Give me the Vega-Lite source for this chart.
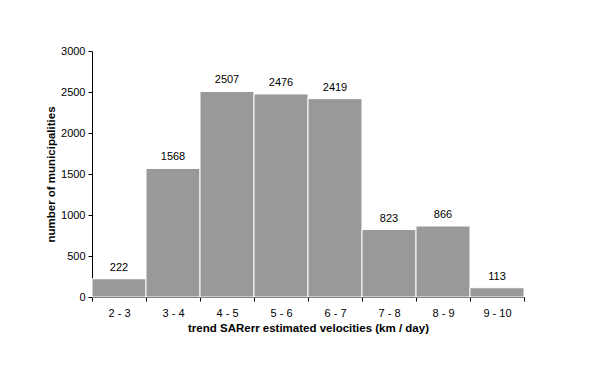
{
  "$schema": "https://vega.github.io/schema/vega-lite/v6.json",
  "width": 432,
  "height": 246,
  "autosize": {"type": "none"},
  "padding": {"left": 92, "top": 51, "right": 76, "bottom": 92},
  "background": "white",
  "config": {
    "view": {"stroke": null},
    "font": "Liberation Sans",
    "axis": {"labelFont": "Liberation Sans", "titleFont": "Liberation Sans", "labelColor": "black", "titleColor": "black", "domainColor": "black", "tickColor": "black", "grid": false, "labelFontSize": 11, "titleFontSize": 11.5, "titleFontWeight": "bold"}
  },
  "data": {"values": [
    {"range": "2 - 3", "count": 222},
    {"range": "3 - 4", "count": 1568},
    {"range": "4 - 5", "count": 2507},
    {"range": "5 - 6", "count": 2476},
    {"range": "6 - 7", "count": 2419},
    {"range": "7 - 8", "count": 823},
    {"range": "8 - 9", "count": 866},
    {"range": "9 - 10", "count": 113}
  ]},
  "encoding": {
    "x": {"field": "range", "type": "nominal", "sort": null,
      "scale": {"paddingInner": 0, "paddingOuter": 0},
      "axis": {"title": "trend SARerr estimated velocities (km / day)", "labelAngle": 0, "tickBand": "extent", "tickSize": 4, "labelPadding": 6, "titlePadding": 4}},
    "y": {"field": "count", "type": "quantitative",
      "scale": {"domain": [0, 3000]},
      "axis": {"title": "number of municipalities", "format": "d", "values": [0, 500, 1000, 1500, 2000, 2500, 3000], "tickSize": 4, "labelPadding": 3, "titlePadding": 4}}
  },
  "layer": [
    {"mark": {"type": "bar", "color": "#999999", "stroke": "white", "strokeWidth": 1}},
    {"mark": {"type": "text", "baseline": "bottom", "dy": -6, "fontSize": 11, "color": "black"},
     "encoding": {"text": {"field": "count", "type": "quantitative"}}}
  ]
}
